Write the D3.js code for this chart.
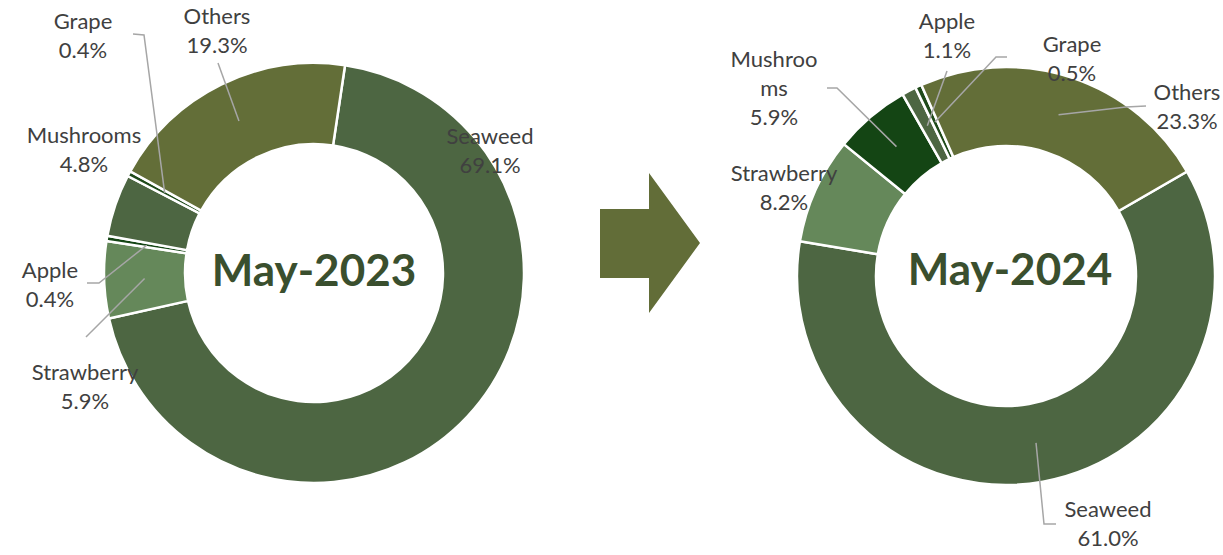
<!DOCTYPE html>
<html>
<head>
<meta charset="utf-8">
<script src="https://cdn.jsdelivr.net/npm/d3@7"></script>
<style>
  html, body { margin: 0; padding: 0; background: #ffffff; }
  svg { display: block; }
  .lbl { font-family: Lato, "Open Sans", sans-serif; font-size: 22px; fill: #404040; }
  .title { font-family: Lato, "Open Sans", sans-serif; font-size: 44px; font-weight: bold; fill: #3a4f2e; }
</style>
</head>
<body>
<svg id="chart" width="1223" height="555"></svg>
<script>
// ---- Data ----
const categories2023 = ["Seaweed", "Strawberry", "Apple", "Mushrooms", "Grape", "Others"];
const values2023     = [69.1, 5.9, 0.4, 4.8, 0.4, 19.3];
const categories2024 = ["Seaweed", "Strawberry", "Mushrooms", "Apple", "Grape", "Others"];
const values2024     = [61.0, 8.2, 5.9, 1.1, 0.5, 23.3];
const titles = ["May-2023", "May-2024"];

// ---- Styling / layout ----
const sliceColors = ["#4d6642", "#65885a", "#144514", "#4d6642", "#1f4a1a", "#636e38"];
const W = 1223, H = 555;
const svg = d3.select("#chart");

const charts = [
  {
    cats: categories2023, vals: values2023, title: titles[0],
    cx: 314, cy: 273, rOuter: 210, rInner: 129, startDeg: 8.5, titleDx: 0, titleDy: 13,
    labels: {
      Seaweed:    { x: 490, y: 144, lines: ["Seaweed"],    leader: null },
      Strawberry: { x: 85,  y: 380, lines: ["Strawberry"], leader: [[86, 337]] },
      Apple:      { x: 50,  y: 278, lines: ["Apple"],      leader: [[87, 283], [99, 283]] },
      Mushrooms:  { x: 84,  y: 143, lines: ["Mushrooms"],  leader: null },
      Grape:      { x: 83,  y: 29,  lines: ["Grape"],      leader: [[133, 34], [144, 35]] },
      Others:     { x: 217, y: 24,  lines: ["Others"],     leader: [[218, 63]] }
    }
  },
  {
    cats: categories2024, vals: values2024, title: titles[1],
    cx: 1006, cy: 276, rOuter: 209, rInner: 130, startDeg: 60, titleDx: 4, titleDy: 9,
    labels: {
      Seaweed:    { x: 1108, y: 517, lines: ["Seaweed"],          leader: [[1056, 524], [1044, 524]] },
      Strawberry: { x: 784,  y: 181, lines: ["Strawberry"],       leader: null },
      Mushrooms:  { x: 774,  y: 67,  lines: ["Mushroo", "ms"],    leader: [[827, 88], [837, 88]] },
      Apple:      { x: 947,  y: 29,  lines: ["Apple"],            leader: [[947, 71]] },
      Grape:      { x: 1072, y: 52,  lines: ["Grape"],            leader: [[1007, 57], [996, 57]] },
      Others:     { x: 1187, y: 100, lines: ["Others"],           leader: [[1146, 106], [1126, 107]] }
    }
  }
];

const lineH = 29;

charts.forEach(c => {
  const data = c.cats.map((k, i) => ({ name: k, value: c.vals[i], idx: i }));
  const start = c.startDeg * Math.PI / 180;
  const pie = d3.pie().sort(null).value(d => d.value)
    .startAngle(start).endAngle(start + 2 * Math.PI);
  const arcs = pie(data);
  const arc = d3.arc().innerRadius(c.rInner).outerRadius(c.rOuter);
  const mid = d3.arc().innerRadius((c.rInner + c.rOuter) / 2).outerRadius((c.rInner + c.rOuter) / 2);

  const g = svg.append("g").attr("transform", `translate(${c.cx},${c.cy})`);
  g.selectAll("path.slice").data(arcs).enter().append("path")
    .attr("class", "slice")
    .attr("d", arc)
    .attr("fill", d => sliceColors[d.data.idx])
    .attr("stroke", "#ffffff")
    .attr("stroke-width", 2.5)
    .attr("stroke-linejoin", "miter");

  // leader lines
  const lg = svg.append("g");
  arcs.forEach(a => {
    const L = c.labels[a.data.name];
    if (!L || !L.leader) return;
    const cen = mid.centroid(a);
    const pts = L.leader.concat([[c.cx + cen[0], c.cy + cen[1]]]);
    lg.append("path")
      .attr("d", d3.line()(pts))
      .attr("fill", "none")
      .attr("stroke", "#a6a6a6")
      .attr("stroke-width", 1.5);
  });

  // labels
  const tg = svg.append("g");
  arcs.forEach(a => {
    const L = c.labels[a.data.name];
    const lines = L.lines.concat([d3.format(".1f")(a.data.value) + "%"]);
    const t = tg.append("text").attr("class", "lbl").attr("text-anchor", "middle");
    lines.forEach((s, i) => {
      t.append("tspan").attr("x", L.x).attr("y", L.y + i * lineH).text(s);
    });
  });

  // title in centre
  svg.append("text").attr("class", "title")
    .attr("x", c.cx + c.titleDx).attr("y", c.cy + c.titleDy)
    .attr("text-anchor", "middle")
    .text(c.title);
});

// arrow between the charts
const arrowShape = { x0: 600, x1: 649, x2: 700, shaftTop: 209, shaftBot: 278, headTop: 173, headBot: 313, tipY: 243 };
const a = arrowShape;
svg.append("path")
  .attr("d", d3.line()([
    [a.x0, a.shaftTop], [a.x1, a.shaftTop], [a.x1, a.headTop], [a.x2, a.tipY],
    [a.x1, a.headBot], [a.x1, a.shaftBot], [a.x0, a.shaftBot]
  ]) + "Z")
  .attr("fill", "#626d38");
</script>
</body>
</html>
